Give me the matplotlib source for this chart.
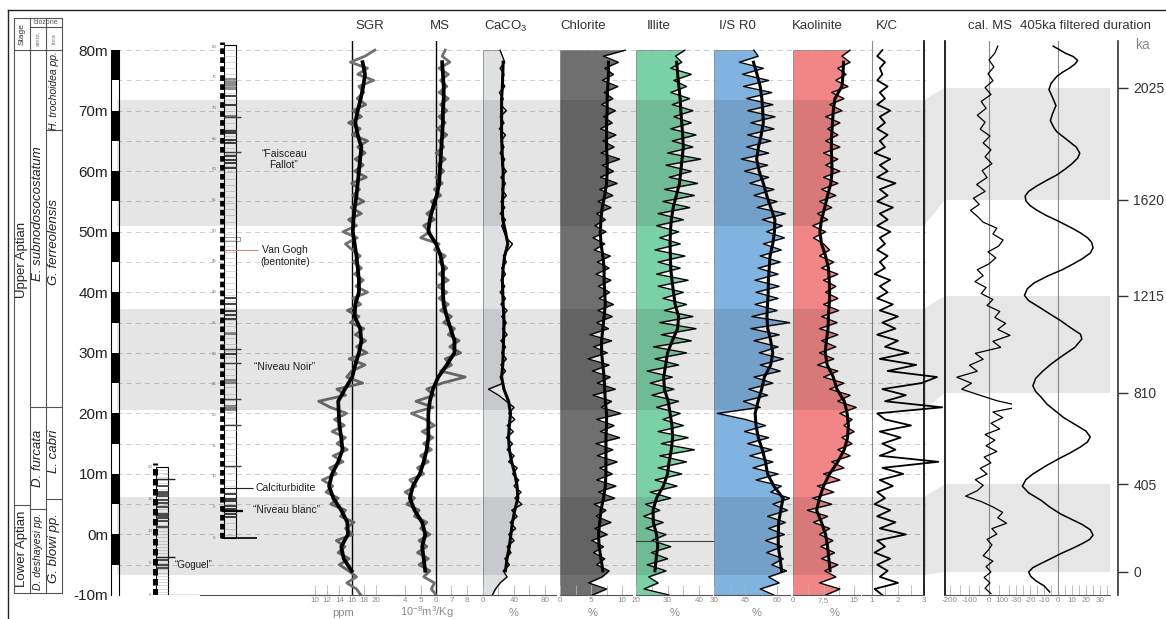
"""Aptian section log: SGR, MS, carbonate and clay tracks against depth, with the
calibrated MS series and its 405 ka filter on an age scale, biozones on the left."""
import numpy as np
import matplotlib
matplotlib.use("Agg")
import matplotlib.pyplot as plt
from matplotlib.lines import Line2D
from matplotlib.patches import Polygon, Rectangle
from matplotlib.ticker import NullLocator

plt.rcParams["font.family"] = ["Liberation Sans", "DejaVu Sans"]
plt.rcParams["mathtext.fontset"] = "custom"
plt.rcParams["mathtext.rm"] = "Liberation Sans"
plt.rcParams["axes.unicode_minus"] = False

W, H = 1166, 619
Y_TOP, Y_BOT = 41, 595          # pixel rows spanned by the log tracks
DEPTH_LIM = (-10, 81.5)         # m

# ---------------------------------------------------------------- data
RAW_DEPTH = np.arange(-10, 81)          # m, 1 m sampling of the raw logs
SMOOTH_DEPTH = np.arange(-6, 79, 2)     # m, smoothed (black) curves

SGR_RAW = [17.5, 16.8, 15.2, 16.8, 15.5, 14.0, 15.6, 13.8, 14.9, 13.5,
           16.2, 15.0, 16.4, 14.2, 15.0, 12.6, 13.8, 11.8, 12.9, 11.2,
           13.5, 12.4, 14.6, 13.0, 15.3, 13.6, 15.0, 12.8, 14.8, 13.2,
           15.2, 12.5, 10.6, 15.0, 13.6, 17.8, 15.2, 16.0, 18.2, 15.6,
           18.5, 16.8, 18.3, 16.6, 18.0, 15.8, 17.2, 15.3, 17.5, 16.2,
           18.6, 16.7, 17.9, 16.5, 17.6, 16.3, 17.4, 16.1, 15.0, 16.9,
           14.6, 16.8, 15.5, 17.6, 15.9, 18.0, 16.2, 17.3, 16.0, 18.4,
           16.5, 17.9, 16.6, 18.2, 17.0, 18.6, 16.1, 17.4, 15.5, 17.6,
           16.2, 18.3, 16.9, 18.0, 17.2, 19.6, 17.0, 18.6, 15.8, 18.2,
           19.8]
SGR_SMOOTH = [16.0, 14.7, 14.3,
              15.4, 15.3, 14.3, 13.0, 12.3, 12.8, 13.8, 14.5, 14.3, 14.0,
              13.9, 13.8, 14.9, 16.1, 16.6, 17.2, 17.6, 17.4, 16.5, 16.6,
              17.2, 17.2, 17.0, 16.8, 16.5, 16.2, 16.3, 16.5, 16.8, 17.0,
              17.2, 17.4, 17.6, 17.0, 16.6, 17.0, 17.5, 17.9, 18.2, 17.8]

MS_RAW = [6.0, 5.7, 5.9, 5.2, 5.6, 4.9, 5.5, 4.8, 5.4, 4.9,
          5.6, 5.0, 5.4, 4.6, 4.9, 4.1, 4.6, 4.0, 4.7, 4.3,
          5.2, 4.8, 5.5, 5.0, 5.7, 5.2, 5.8, 5.1, 5.9, 5.3,
          4.4, 5.8, 4.7, 5.9, 5.4, 6.4, 7.9, 6.3, 7.0, 6.6,
          7.6, 6.9, 7.5, 6.8, 7.2, 6.5, 7.0, 6.3, 6.8, 6.2,
          6.7, 6.1, 6.8, 6.2, 6.7, 6.2, 6.6, 5.9, 6.2, 5.0,
          5.6, 5.2, 5.9, 5.4, 6.0, 5.7, 6.3, 5.9, 6.4, 6.0,
          6.5, 6.1, 6.6, 6.0, 6.5, 6.2, 6.7, 6.1, 6.6, 6.2,
          6.7, 6.3, 6.8, 6.2, 6.7, 6.3, 6.8, 6.2, 6.9, 6.4,
          6.6]
MS_SMOOTH = [5.3, 5.2, 5.1,
             5.3, 5.1, 4.6, 4.3, 4.5, 4.95, 5.2, 5.4, 5.5, 5.5,
             5.5, 5.6, 5.8, 6.15, 6.7, 7.2, 7.2, 6.95, 6.7, 6.5,
             6.45, 6.45, 6.45, 6.3, 6.0, 5.5, 5.6, 5.8, 6.05, 6.2,
             6.25, 6.3, 6.35, 6.4, 6.45, 6.45, 6.5, 6.5, 6.45, 6.4]

CACO3_RAW = [12, 16, 22, 31, 26, 34, 28, 36, 31, 40,
             33, 42, 35, 44, 37, 50, 41, 49, 40, 46,
             38, 44, 33, 40, 31, 38, 30, 39, 31, 41,
             33, 40, 30, 20, 7, 26, 22, 29, 23, 30,
             24, 29, 23, 31, 25, 30, 24, 31, 23, 29,
             22, 28, 23, 29, 24, 30, 26, 32, 38, 30,
             27, 24, 29, 22, 28, 23, 30, 24, 29, 23,
             30, 24, 28, 22, 27, 23, 29, 21, 27, 22,
             30, 23, 26, 21, 28, 24, 27, 22, 28, 25,
             22]
CACO3_SMOOTH = [29, 31, 34,
                36, 38, 41, 45, 44, 41, 37, 34, 33, 34,
                35.5, 33, 27, 24, 25.5, 26, 26.5, 27, 27, 26,
                25.5, 25, 26, 28, 32, 29, 25.5, 25, 25.5, 26,
                26, 25, 24.5, 24, 24, 24, 24, 25, 25.5, 26]

CHLORITE_RAW = [5.2, 7.5, 4.6, 6.8, 7.9, 5.9, 7.2, 5.4, 7.0, 5.1,
                7.6, 5.6, 8.2, 5.8, 7.4, 5.5, 8.8, 6.2, 9.0, 5.9,
                8.4, 6.4, 9.2, 6.0, 8.5, 5.8, 9.6, 6.5, 8.7, 5.9,
                9.8, 6.6, 8.3, 5.3, 8.9, 6.0, 8.1, 5.2, 7.9, 4.5,
                7.6, 5.4, 8.3, 4.8, 7.8, 5.9, 8.4, 6.1, 8.6, 6.3,
                8.0, 6.2, 8.2, 5.8, 7.9, 6.0, 8.1, 5.5, 7.2, 5.3,
                7.4, 5.6, 7.3, 5.9, 8.2, 6.1, 8.5, 6.4, 9.2, 6.5,
                8.6, 6.8, 9.6, 6.6, 8.7, 6.9, 9.0, 6.5, 8.4, 7.0,
                8.9, 6.7, 8.5, 7.1, 9.3, 6.8, 8.6, 7.2, 9.4, 7.0,
                10.5]
CHLORITE_SMOOTH = [6.9, 6.6, 6.3,
                   6.2, 6.4, 6.6, 7.0, 7.3, 7.4, 7.4, 7.4, 7.4, 7.5,
                   7.5, 7.3, 7.2, 7.1, 6.9, 6.7, 6.7, 6.9, 7.1, 7.3,
                   7.2, 7.1, 7.1, 6.9, 6.6, 6.5, 6.6, 6.8, 7.2, 7.5,
                   7.6, 7.6, 7.5, 7.5, 7.5, 7.6, 7.6, 7.7, 7.8, 7.8]

ILLITE_RAW = [30.5, 22.5, 27.0, 24.0, 29.5, 23.5, 30.0, 24.8, 31.0, 25.0,
              29.5, 23.2, 28.6, 22.4, 27.5, 23.0, 31.0, 24.5, 33.0, 26.0,
              34.5, 27.0, 36.0, 27.5, 38.5, 28.0, 36.5, 27.0, 35.0, 28.5,
              34.0, 26.5, 33.5, 25.0, 32.0, 24.5, 31.5, 23.5, 33.5, 26.0,
              36.0, 25.5, 37.5, 28.0, 39.0, 27.5, 38.0, 29.0, 36.0, 28.5,
              35.0, 27.0, 36.5, 26.5, 34.0, 27.0, 35.5, 26.0, 34.0, 27.5,
              33.5, 26.5, 35.0, 27.0, 37.0, 28.5, 38.5, 29.0, 39.5, 30.5,
              37.5, 29.5, 40.5, 30.0, 38.0, 31.5, 39.0, 31.0, 37.5, 32.0,
              38.0, 31.5, 37.0, 31.0, 36.0, 32.0, 37.5, 31.0, 34.5, 32.5,
              35.5]
ILLITE_SMOOTH = [26.0, 26.4, 26.9,
                 26.5, 25.5, 25.4, 26.5, 28.7, 30.0, 30.5, 31.2, 31.6, 31.4,
                 30.8, 30.2, 29.0, 28.8, 29.4, 30.0, 31.5, 33.2, 33.5, 32.4,
                 31.9, 31.4, 31.0, 30.9, 30.8, 30.9, 31.2, 31.8, 32.8, 33.8,
                 34.2, 34.6, 35.0, 34.8, 34.5, 34.2, 34.0, 33.6, 33.2, 32.9]

IS_RAW = [58.5, 52.0, 61.0, 56.0, 64.5, 57.5, 63.0, 55.0, 62.5, 54.5,
          63.5, 56.0, 64.0, 55.5, 65.0, 58.0, 66.0, 57.0, 62.0, 50.0,
          60.5, 48.5, 58.0, 47.0, 57.5, 46.0, 56.0, 44.5, 54.5, 45.0,
          31.5, 52.0, 44.0, 55.5, 46.5, 58.0, 49.0, 61.5, 52.0, 63.0,
          51.5, 60.5, 49.0, 61.0, 47.5, 66.0, 48.0, 60.0, 49.5, 60.5,
          50.0, 61.0, 49.5, 60.5, 51.0, 61.5, 52.0, 62.0, 53.5, 63.5,
          55.0, 62.5, 53.0, 64.0, 50.5, 60.0, 49.0, 58.5, 47.0, 56.0,
          44.5, 55.5, 43.0, 56.0, 45.5, 57.0, 46.0, 58.5, 47.5, 59.0,
          46.0, 58.0, 45.5, 57.5, 44.0, 56.0, 43.5, 53.5, 42.0, 51.0,
          49.0]
IS_SMOOTH = [62.2, 61.5, 60.6,
             60.6, 60.8, 61.8, 62.9, 58.5, 55.5, 54.5, 53.0, 51.1, 50.0,
             49.6, 51.0, 52.7, 54.0, 57.0, 58.0, 57.0, 55.6, 55.2, 55.5,
             55.8, 55.9, 56.3, 56.7, 58.0, 58.8, 59.0, 57.0, 55.1, 53.5,
             51.5, 50.3, 51.2, 52.5, 53.5, 53.2, 52.8, 52.0, 50.5, 48.8]

KAOLINITE_RAW = [8.0, 11.5, 6.5, 10.5, 7.8, 11.0, 7.0, 10.2, 6.8, 9.8,
                 6.5, 9.0, 5.0, 8.5, 3.5, 9.5, 4.8, 10.0, 6.0, 11.5,
                 7.5, 12.5, 9.5, 14.0, 11.0, 14.5, 12.0, 15.0, 12.5, 14.5,
                 11.5, 15.5, 11.0, 14.0, 9.0, 12.5, 7.5, 11.0, 6.0, 10.0,
                 6.5, 10.5, 7.0, 11.0, 6.5, 10.8, 7.0, 11.2, 7.5, 11.0,
                 8.0, 10.5, 7.5, 11.0, 7.0, 10.0, 6.5, 9.0, 7.5, 5.0,
                 8.0, 4.8, 8.5, 6.0, 9.5, 6.5, 10.5, 7.0, 11.0, 7.5,
                 11.5, 8.0, 11.0, 7.5, 11.5, 8.0, 11.0, 8.5, 11.5, 8.0,
                 12.0, 9.0, 12.5, 9.5, 13.5, 10.5, 13.0, 11.0, 14.0, 12.0,
                 14.0]
KAOLINITE_SMOOTH = [9.1, 8.8, 8.5,
                    8.0, 7.0, 5.8, 6.5, 7.5, 9.0, 11.0, 12.6, 13.4, 13.6,
                    13.3, 12.6, 10.8, 9.9, 8.4, 7.9, 8.2, 8.6, 8.7, 8.9,
                    9.0, 8.9, 8.7, 8.0, 7.0, 6.6, 7.0, 7.8, 8.5, 9.3,
                    9.6, 9.5, 9.4, 9.5, 9.7, 9.9, 10.3, 12.0, 12.3, 12.4]

KC_RAW = [1.4, 1.1, 2.0, 1.3, 1.6, 1.2, 1.7, 1.1, 1.5, 1.2,
          2.3, 1.3, 1.9, 1.2, 1.7, 1.1, 1.5, 1.2, 1.8, 1.3,
          2.2, 1.4, 3.55, 1.3, 1.9, 1.4, 2.1, 1.3, 2.5, 1.5,
          1.2, 3.7, 1.5, 2.3, 1.4, 2.9, 3.5, 1.6, 2.7, 1.3,
          2.4, 1.5, 2.0, 1.2, 1.9, 1.4, 2.0, 1.3, 1.8, 1.2,
          1.6, 1.3, 1.7, 1.1, 1.5, 1.3, 1.6, 1.2, 1.5, 1.3,
          1.7, 1.2, 1.6, 1.3, 1.8, 1.2, 1.6, 1.3, 1.9, 1.2,
          1.6, 1.3, 1.7, 1.1, 1.5, 1.3, 1.6, 1.2, 1.5, 1.3,
          1.7, 1.2, 1.5, 1.3, 1.6, 1.2, 1.4, 1.3, 1.5, 1.2,
          1.4]

# age-domain series (ka)
CALMS_KA = np.arange(-100, 2176, 25)
CALMS = [10, -20, 5, -25, 10, -15, 20, -30, -5, 15,
         -10, 40, 15, 90, 45, 70, 20, -40, -120, -60,
         -30, -70, -10, -45, 10, -25, 40, -15, 30, -20,
         55, 10, 70, 20, 168, 40, -50, -140, -90, -165,
         -60, -100, -30, -70, 60, 20, 108, 45, 85, 30,
         55, -10, 20, -40, -15, -72, -30, -60, 0, 35,
         -5, 50, 72, 20, 40, -30, -60, -95, -50, -80,
         -20, -63, -10, -35, 15, -20, 10, -30, 5, -45,
         -20, -60, -15, -40, 10, -20, 20, -5, 25, 0,
         30, 45]
FILT_KA = [-92, -64, -40, -20, 0, 20, 40, 62, 85, 108,
           130, 150, 170, 195, 220, 245, 267, 300, 330, 365,
           396, 425, 450, 485, 516, 545, 570, 592, 614, 640,
           670, 700, 725, 760, 790, 815, 839, 870, 900, 930,
           960, 1000, 1035, 1055, 1070, 1090, 1111, 1140, 1170, 1195,
           1217, 1245, 1270, 1300, 1325, 1350, 1370, 1395, 1417, 1440,
           1460, 1480, 1500, 1530, 1555, 1575, 1595, 1615, 1633, 1650,
           1670, 1690, 1709, 1730, 1750, 1770, 1788, 1810, 1830, 1850,
           1866, 1880, 1906, 1930, 1960, 1990, 2018, 2040, 2065, 2080,
           2095, 2110, 2123, 2137, 2150, 2165, 2175]
FILT_405 = [-6, -10, -16, -19.5, -21, -18, -12, -5, 2, 10,
            17, 22.5, 25, 23, 17, 9, 2, -6, -12, -21,
            -25.5, -23, -18, -9, 0, 9, 16, 21, 23, 20,
            12, 4, -1, -8, -12, -16, -18, -16, -11, -5,
            2, 12, 17, 16, 12, 7, 2, -6, -14, -21,
            -24, -22, -17, -7, 3, 11, 17, 23, 25, 24,
            21, 16, 10, 0, -9, -15, -20, -23, -23.5, -21,
            -15, -8, -1, 5, 10, 14, 15.5, 13, 8, 3,
            -1, -3, -5.5, -4, -1.5, -4, -6.5, -5, -1, 3,
            8, 12, 14, 11, 5, 0, -3.5]

# age model tie points (ka -> depth m) and the highlighted intervals
KA_TIE = [0, 405, 810, 1215, 1620, 2025]
KA_TIE_M = [-6.2, 8.3, 23.4, 39.4, 55.3, 73.8]
BAND_M = [(51.0, 71.8), (20.6, 37.3), (-6.7, 6.2)]
BAND_KA = [(1620, 2025), (810, 1215), (0, 405)]

# biostratigraphy: (name, base m, top m, label m)
STAGES = [("Upper Aptian", 4.9, 80.1, 45.4), ("Lower Aptian", -9.7, 4.9, -2.4)]
AMMONITE = [("E. subnodosocostatum", 21.1, 80.1, 53.1),
            ("D. furcata", 4.2, 21.1, 12.6), ("D. deshayesi pp.", -9.7, 4.2, -2.8)]
FORAM = [("H. trochoidea pp.", 66.9, 80.1, 73.4), ("G. ferreolensis", 21.1, 66.9, 48.3),
         ("L. cabri", 5.9, 21.1, 13.8), ("G. blowi pp.", -9.7, 5.9, -2.2)]

# lithological columns (local metres of each section)
SEC2_DARK = [71.9, 70.4, 66.3, 66.0, 64.8, 64.3, 62.1, 61.5, 61.0, 60.2, 39.0, 38.0,
             36.9, 36.3, 35.6, 30.0, 7.2, 6.4, 6.0, 5.2, 4.7, 3.9, 3.4]
SEC2_LONG = [68.6, 62.8, 30.7, 28.5, 22.6, 18.3, 11.7]
SEC2_GRAY = [(72.9, 74.8), (68.3, 68.9), (33.0, 33.5), (25.1, 25.9), (20.7, 21.6)]
SEC1_DARK = [17.1, 16.1, 15.8, 15.4, 14.8, 14.4, 13.8, 12.7, 12.3, 12.0, 11.5, 10.7,
             5.4, 4.7, 4.2]
SEC1_LONG = [18.2, 6.0]
SCALE_BLOCK_TOPS = [0, 10, 20, 30, 40, 50, 60, 70, 80]

fig = plt.figure(figsize=(W / 100, H / 100), dpi=100)


def box(x0, x1, y0=Y_TOP, y1=Y_BOT):
    return [x0 / W, 1 - y1 / H, (x1 - x0) / W, (y1 - y0) / H]


def bare(ax):
    for s in ax.spines.values():
        s.set_visible(False)
    ax.set_xticks([])
    ax.set_yticks([])
    ax.patch.set_visible(False)


_lo = (KA_TIE_M[1] - KA_TIE_M[0]) / (KA_TIE[1] - KA_TIE[0])
_hi = (KA_TIE_M[-1] - KA_TIE_M[-2]) / (KA_TIE[-1] - KA_TIE[-2])


def ka_to_m(ka):
    ka = np.asarray(ka, float)
    m = np.interp(ka, KA_TIE, KA_TIE_M)
    m = np.where(ka < KA_TIE[0], KA_TIE_M[0] + (ka - KA_TIE[0]) * _lo, m)
    return np.where(ka > KA_TIE[-1], KA_TIE_M[-1] + (ka - KA_TIE[-1]) * _hi, m)


def m_to_ka(m):
    m = np.asarray(m, float)
    ka = np.interp(m, KA_TIE_M, KA_TIE)
    ka = np.where(m < KA_TIE_M[0], KA_TIE[0] + (m - KA_TIE_M[0]) / _lo, ka)
    return np.where(m > KA_TIE_M[-1], KA_TIE[-1] + (m - KA_TIE_M[-1]) / _hi, ka)


KA_LIM = (float(m_to_ka(DEPTH_LIM[0])), float(m_to_ka(DEPTH_LIM[1])))

# frame
fig.add_artist(Line2D([8 / W, 8 / W], [0, 1 - 10 / H], color="#222", lw=1))
fig.add_artist(Line2D([8 / W, 1], [1 - 10 / H] * 2, color="#222", lw=1))

# dashed depth grid behind everything
ax_bg = fig.add_axes(box(117, 926))
ax_bg.set_xlim(0, 1)
ax_bg.set_ylim(*DEPTH_LIM)
bare(ax_bg)
for d in range(-5, 81, 5):
    ax_bg.axhline(d, color="#c6c6c6", lw=0.6, ls=(0, (6, 5)))

# ---------------------------------------------------------------- stage / biozones
ax_st = fig.add_axes(box(14, 62, 18, 595))
ax_st.set_xlim(0, 3)
ax_st.set_ylim(-10, 85.4)
bare(ax_st)
lk = dict(color="#555", lw=0.8, clip_on=False)
for x in range(4):
    ax_st.plot([x, x], [-9.7, 85.4], **lk)
ax_st.plot([0, 3], [85.4, 85.4], **lk)
ax_st.plot([0, 3], [80.1, 80.1], **lk)
ax_st.plot([1, 3], [83.9, 83.9], **lk)
for col, zones in enumerate([STAGES, AMMONITE, FORAM]):
    for name, base, top, ylab in zones:
        ax_st.plot([col, col + 1], [base, base], **lk)
        if col == 0:
            size = 9.5
        elif "deshayesi" in name:
            size = 7.5
        elif "trochoidea" in name:
            size = 7.5
        else:
            size = 9.5
        ax_st.text(col + 0.5, ylab, name, rotation=90, ha="center", va="center",
                   fontsize=size, style="normal" if col == 0 else "italic", color="#222")
ax_st.text(0.5, 82.75, "Stage", rotation=90, ha="center", va="center", fontsize=6, color="#333")
ax_st.text(2.0, 84.65, "biozone", ha="center", va="center", fontsize=5, color="#555")
ax_st.text(1.5, 82.0, "amm.", rotation=90, ha="center", va="center", fontsize=4.5, color="#777")
ax_st.text(2.5, 82.0, "fora", rotation=90, ha="center", va="center", fontsize=4.5, color="#777")

# ---------------------------------------------------------------- depth scale bar
ax_bar = fig.add_axes(box(111, 119, 50, 595))
ax_bar.set_xlim(0, 1)
ax_bar.set_ylim(-10, 80)
for s in ("top", "bottom"):
    ax_bar.spines[s].set_visible(False)
for s in ("left", "right"):
    ax_bar.spines[s].set_linewidth(0.8)
for t in SCALE_BLOCK_TOPS:
    ax_bar.bar(0.5, 5, bottom=t - 5, width=1, color="k")
ax_bar.set_xticks([])
ax_bar.set_yticks(range(-10, 81, 10))
ax_bar.set_yticklabels([f"{d}m" for d in range(-10, 81, 10)])
ax_bar.tick_params(axis="y", length=0, pad=2, labelsize=11, labelcolor="#222")

# ---------------------------------------------------------------- lithological columns
ax_s1 = fig.add_axes(box(150, 200))
ax_s1.set_xlim(150, 200)
ax_s1.set_ylim(0, 86.6)
bare(ax_s1)
for d in np.arange(0.5, 20, 0.5):
    ax_s1.hlines(d, 156, 168, color="#bdbdbd", lw=0.4)
for d in SEC1_DARK:
    ax_s1.hlines(d, 156, 169, color="#333", lw=1.2)
for d in SEC1_LONG:
    ax_s1.hlines(d, 156, 175, color="#222", lw=1.0)
ax_s1.add_patch(Rectangle((156, 0), 12, 20, fill=False, ec="k", lw=0.8))
ax_s1.vlines(155, 0, 20.6, color="k", lw=3.6, linestyles=[(0, (1.3, 0.7))])
ax_s1.hlines(0, 155, 200, color="#333", lw=0.9)
for d in range(0, 21, 5):
    ax_s1.text(150.5, d, str(d), fontsize=3.2, color="#777", ha="center", va="center")
ax_s1.text(175, 4.7, "\u201cGoguel\u201d", fontsize=7, ha="left", va="center", color="#222")

ax_s2 = fig.add_axes(box(200, 330))
ax_s2.set_xlim(200, 330)
ax_s2.set_ylim(-9.3, 80.9)
bare(ax_s2)
ax_s2.spines["bottom"].set_visible(True)
ax_s2.spines["bottom"].set_color("#555")
for d in np.arange(0.5, 80.3, 1.0):
    ax_s2.hlines(d, 224, 236, color="#bdbdbd", lw=0.4)
for lo, hi in SEC2_GRAY:
    ax_s2.fill_between([224, 236], lo, hi, color="#8c8c8c", lw=0)
for d in SEC2_DARK:
    ax_s2.hlines(d, 224, 237, color="#333", lw=1.3)
for d in SEC2_LONG:
    ax_s2.hlines(d, 224, 241, color="#444", lw=1.0)
ax_s2.add_patch(Rectangle((224, 48.4), 16, 0.6, fc="white", ec="#888", lw=0.6))
ax_s2.add_patch(Rectangle((224, 0), 12, 80.3, fill=False, ec="k", lw=0.8))
ax_s2.vlines(222, 0, 80.8, color="k", lw=3.4, linestyles=[(0, (1.2, 0.7))])
ax_s2.hlines(0, 222, 257, color="k", lw=1.2)
ax_s2.hlines(46.9, 224, 258, color="#e07b7b", lw=0.7)
ax_s2.hlines(8.2, 224, 253, color="#222", lw=0.8)
ax_s2.hlines(4.3, 222, 243, color="k", lw=1.6)
for d in range(0, 81, 5):
    ax_s2.text(214, d, str(d), fontsize=3.2, color="#777", ha="center", va="center")
lab = dict(fontsize=7.5, color="#222", va="center")
ax_s2.text(284, 61.6, "\u201cFaisceau\nFallot\u201d", ha="center", linespacing=1.1, **lab)
ax_s2.text(285, 45.9, "Van Gogh\n(bentonite)", ha="center", linespacing=1.2, **lab)
ax_s2.text(285, 27.9, "\u201cNiveau Noir\u201d", ha="center", **lab)
ax_s2.text(255, 8.1, "Calciturbidite", ha="left", **lab)
ax_s2.text(253, 4.6, "\u201cNiveau blanc\u201d", ha="left", **lab)


# ---------------------------------------------------------------- depth tracks
def track(x0, x1, xlim, major, minor=(), labels=None):
    ax = fig.add_axes(box(x0, x1))
    ax.patch.set_visible(False)
    ax.set_xlim(*xlim)
    ax.set_ylim(*DEPTH_LIM)
    for side in ("top", "right", "left"):
        ax.spines[side].set_visible(False)
    ax.spines["bottom"].set_color("#555555")
    ax.spines["bottom"].set_linewidth(0.8)
    ax.set_yticks([])
    ax.set_xticks(major)
    if labels is not None:
        ax.set_xticklabels(labels)
    ax.set_xticks(minor, minor=True)
    ax.tick_params(axis="x", which="both", direction="in", length=7, width=0.6,
                   color="#b4b4b4", labelsize=5.8, labelcolor="#8c8c8c", pad=1.5)
    return ax


def clay(ax, raw, smooth, left, color):
    ax.fill_betweenx(RAW_DEPTH, left, raw, color=color, ec="#7a7a7a", lw=0.5)
    ax.plot(raw, RAW_DEPTH, color="k", lw=0.9)
    ax.plot(smooth, SMOOTH_DEPTH, color="k", lw=2.2)


ax = track(310, 400, (9.18, 23.93), range(10, 21, 2))
ax.axvline(16, color="k", lw=1)
ax.plot(SGR_RAW, RAW_DEPTH, color="#707070", lw=2.0)
ax.plot(SGR_SMOOTH, SMOOTH_DEPTH, color="k", lw=2.7)

ax = track(396, 482, (3.40, 8.99), range(4, 9))
ax.axvline(6, color="k", lw=1)
ax.plot(MS_RAW, RAW_DEPTH, color="#707070", lw=2.0)
ax.plot(MS_SMOOTH, SMOOTH_DEPTH, color="k", lw=2.7)

ax = track(483, 556, (0, 94.2), [0, 40, 80], [20, 60])
clay(ax, CACO3_RAW, CACO3_SMOOTH, 0, "#dfe0e4")

ax = track(560, 632, (0, 11.6), [0, 5, 10], [2.5, 7.5])
clay(ax, CHLORITE_RAW, CHLORITE_SMOOTH, 0, "#6f6f6f")

ax = track(636, 712, (20, 44.1), [20, 30, 40], [25, 35])
clay(ax, ILLITE_RAW, ILLITE_SMOOTH, 20, "#7bd1a6")
ax.axhline(-1.0, xmax=1.05, color="#444", lw=0.8, clip_on=False)

ax = track(714, 790, (30, 66.2), [30, 45, 60], [37.5, 52.5])
clay(ax, IS_RAW, IS_SMOOTH, 30, "#80b3df")

ax = track(793, 860, (0, 16.46), [0, 7.5, 15], [3.75, 11.25], labels=["0", "7,5", "15"])
clay(ax, KAOLINITE_RAW, KAOLINITE_SMOOTH, 0, "#f28686")

ax_kc = track(862, 924, (0.615, 3.0), [1, 2, 3], [1.5, 2.5])
ax_kc.spines["right"].set_visible(True)
ax_kc.spines["right"].set_linewidth(1.2)
ax_kc.axvline(1, color="#8a8a8a", lw=0.8)
ax_kc.plot(KC_RAW, RAW_DEPTH, color="k", lw=1.3, clip_on=False)

# translucent highlight bands across the depth tracks
ax_ov = fig.add_axes(box(117, 926))
ax_ov.set_xlim(0, 1)
ax_ov.set_ylim(*DEPTH_LIM)
bare(ax_ov)
for lo, hi in BAND_M:
    ax_ov.axhspan(lo, hi, color="k", alpha=0.1, lw=0)

# ---------------------------------------------------------------- age-domain tracks
ax_cal = track(945, 1012, (-225.6, 117.9), [-200, -100, 0, 100], [-150, -50, 50])
ax_405 = track(1012, 1110, (-32.9, 37.1), range(-30, 31, 10), range(-25, 36, 10))
ax_cal.get_xticklabels()[-1].set_ha("right")
for axr in (ax_cal, ax_405):
    axr.set_yscale("function", functions=(ka_to_m, m_to_ka))
    axr.set_ylim(*KA_LIM)
    axr.yaxis.set_major_locator(NullLocator())
    axr.yaxis.set_minor_locator(NullLocator())
    for lo, hi in BAND_KA:
        axr.axhspan(lo, hi, color="#e6e6e6", lw=0, zorder=0)
    axr.axvline(0, color="#8a8a8a", lw=0.8)
ax_cal.spines["left"].set_visible(True)
ax_cal.spines["left"].set_linewidth(1.2)
ax_cal.plot(CALMS, CALMS_KA, color="k", lw=0.9)
ax_405.plot(FILT_405, FILT_KA, color="k", lw=1.1)

ax_ka = fig.add_axes(box(1100, 1118))
ax_ka.patch.set_visible(False)
for s in ("top", "bottom", "left"):
    ax_ka.spines[s].set_visible(False)
ax_ka.spines["right"].set_color("#333")
ax_ka.spines["right"].set_linewidth(1.2)
ax_ka.set_yscale("function", functions=(ka_to_m, m_to_ka))
ax_ka.set_ylim(*KA_LIM)
ax_ka.set_xticks([])
ax_ka.set_yticks(KA_TIE)
ax_ka.set_yticklabels([str(k) for k in KA_TIE])
ax_ka.yaxis.set_minor_locator(NullLocator())
ax_ka.yaxis.tick_right()
ax_ka.tick_params(axis="y", direction="out", length=7, width=1, color="#333",
                  labelsize=10, labelcolor="#333", pad=4)

# connectors between the depth bands and their age equivalents
to_fig = fig.transFigure.inverted()
for (m0, m1), (k0, k1) in zip(BAND_M, BAND_KA):
    xr = ax_kc.get_xlim()[1]
    xl = ax_cal.get_xlim()[0]
    pts = [ax_kc.transData.transform((xr, m1)), ax_cal.transData.transform((xl, k1)),
           ax_cal.transData.transform((xl, k0)), ax_kc.transData.transform((xr, m0))]
    fig.add_artist(Polygon(to_fig.transform(pts), closed=True, color="#e6e6e6", lw=0,
                           transform=fig.transFigure, zorder=-1))

# ---------------------------------------------------------------- titles and units
for name, xp in [("SGR", 370), ("MS", 440), ("CaCO$_3$", 506), ("Chlorite", 583),
                 ("Illite", 659), ("I/S R0", 737), ("Kaolinite", 817), ("K/C", 887),
                 ("cal. MS", 990), ("405ka filtered duration", 1085)]:
    fig.text(xp / W, 1 - 26 / H, name, ha="center", va="center", fontsize=9.5, color="#333")
for name, xp in [("ppm", 343), ("10$^{-8}$m$^{3}$/Kg", 427), ("%", 514), ("%", 593),
                 ("%", 675), ("%", 757), ("%", 835)]:
    fig.text(xp / W, 1 - 612.5 / H, name, ha="center", va="center", fontsize=8, color="#8a8a8a")
fig.text(1142 / W, 1 - 45 / H, "ka", ha="center", va="center", fontsize=10, color="#8a8a8a")

fig.savefig("out.png", dpi=100)
